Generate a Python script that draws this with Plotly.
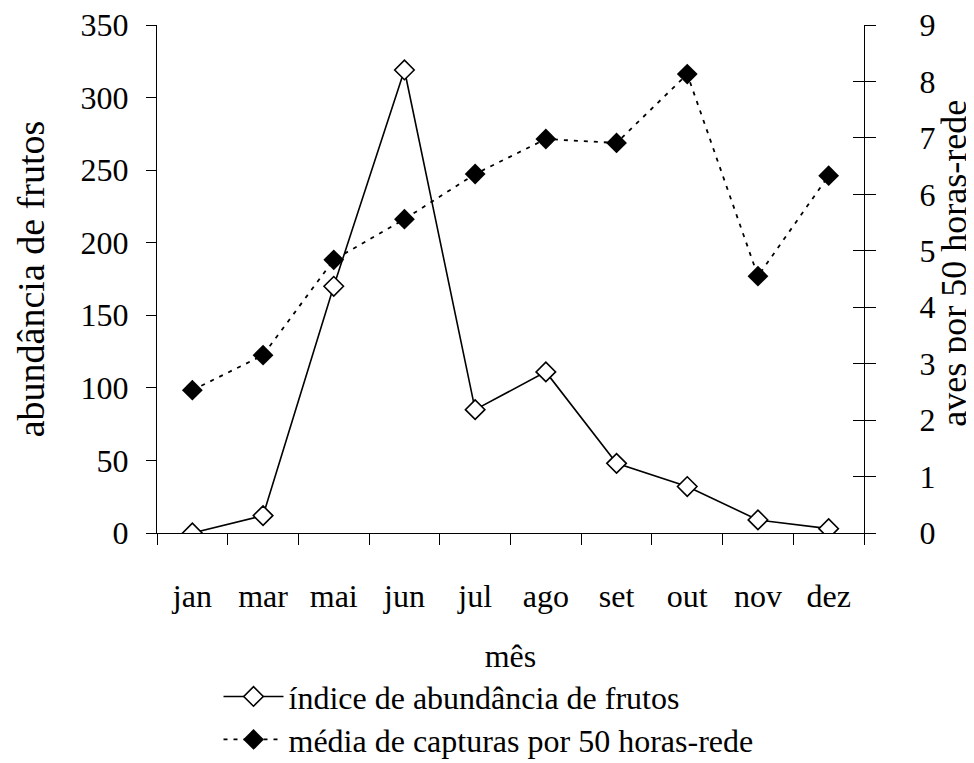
import plotly.graph_objects as go

months = ["jan", "mar", "mai", "jun", "jul", "ago", "set", "out", "nov", "dez"]
frutos = [0, 12, 170, 319, 85, 111, 48, 32, 9, 3]
aves = [2.53, 3.15, 4.84, 5.56, 6.36, 6.98, 6.91, 8.13, 4.55, 6.33]

name_frutos = "índice de abundância de frutos"
name_aves = "média de capturas por 50 horas-rede"
title_left = "abundância de frutos"
title_right = "aves por 50 horas-rede"
title_x = "mês"

FONT = "Liberation Serif, Times New Roman, serif"

fig = go.Figure()
fig.add_trace(go.Scatter(
    x=months, y=frutos, name=name_frutos, mode="lines+markers",
    line=dict(color="black", width=1.6),
    marker=dict(symbol="diamond", size=15, color="white",
                line=dict(color="black", width=1.6)),
    yaxis="y", legend="legend"))
fig.add_trace(go.Scatter(
    x=months, y=aves, name=name_aves, mode="lines+markers",
    line=dict(color="black", width=1.8, dash="4px,6px"),
    marker=dict(symbol="diamond", size=16, color="black"),
    yaxis="y2", legend="legend2"))
# helper trace so the inner tick axis (right side) is drawn
fig.add_trace(go.Scatter(
    x=months, y=aves, mode="markers", marker=dict(opacity=0),
    showlegend=False, hoverinfo="skip", yaxis="y3"))

leg_common = dict(xanchor="left", yanchor="top", font=dict(size=32),
                  bgcolor="rgba(0,0,0,0)", itemwidth=60)

fig.update_layout(
    width=974, height=763,
    margin=dict(l=149, r=118, t=17, b=238, autoexpand=False),
    paper_bgcolor="white", plot_bgcolor="white",
    font=dict(family=FONT, size=32, color="black"),
    showlegend=True,
    legend=dict(x=0.087, y=-0.268, **leg_common),
    legend2=dict(x=0.087, y=-0.3527, **leg_common),
    xaxis=dict(type="category", range=[-0.5, 9.5], tickson="boundaries",
               automargin=False,
               showline=True, linecolor="black", linewidth=1,
               ticks="outside", ticklen=11, tickcolor="black",
               showgrid=False, zeroline=False, ticklabelstandoff=35,
               title=dict(text=title_x, standoff=31, font=dict(size=32))),
    yaxis=dict(range=[0, 350], dtick=50, showline=True, linecolor="black",
               automargin=False, ticklabeloverflow="allow",
               linewidth=1, ticks="outside", ticklen=10, tickcolor="black",
               showgrid=False, zeroline=False, ticklabelstandoff=11,
               title=dict(text=title_left, standoff=24)),
    yaxis2=dict(range=[0, 9], dtick=1, overlaying="y", side="right",
                anchor="x", automargin=False, ticklabeloverflow="allow",
                showline=True, linecolor="black", linewidth=1,
                ticks="outside", ticklen=11, tickcolor="black",
                showgrid=False, zeroline=False, ticklabelstandoff=37),
    yaxis3=dict(range=[0, 9], dtick=1, overlaying="y", side="right",
                anchor="x", automargin=False,
                showline=False, ticks="inside", ticklen=11,
                tickcolor="black", showticklabels=False, showgrid=False,
                zeroline=False),
    annotations=[dict(text=title_right, xref="paper", yref="paper",
                      x=1.1273, y=0.53, xanchor="center", yanchor="middle",
                      textangle=-90, showarrow=False,
                      font=dict(size=36))],
)

fig.write_html("out.html")
